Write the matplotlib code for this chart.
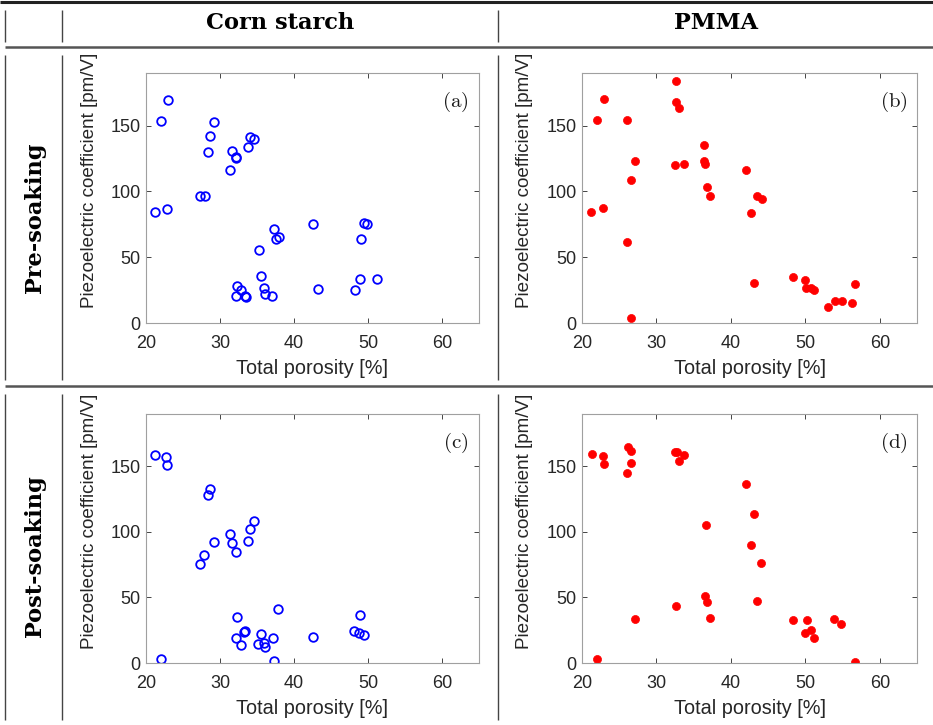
import matplotlib
matplotlib.use("Agg")
import matplotlib.pyplot as plt
from matplotlib.lines import Line2D

plt.rcParams['mathtext.fontset'] = 'cm'

# ---------------- data ----------------
cs_pre_x = [22.93, 21.98, 29.2, 28.66, 34.1, 34.6, 33.75, 28.39, 31.59, 32.13, 32.2, 31.36,
            27.35, 27.98, 21.26, 22.8, 37.32, 37.95, 37.59, 42.59, 49.45, 49.8, 49.0, 35.29,
            35.5, 32.31, 32.85, 32.18, 33.44, 33.57, 35.92, 36.1, 37.09, 43.18, 48.28, 48.9, 51.25]
cs_pre_y = [169.8, 153.8, 152.8, 141.9, 141.1, 139.6, 133.8, 129.7, 130.5, 125.9, 125.4, 116.2,
            96.7, 96.7, 84.0, 86.8, 71.8, 65.5, 63.5, 75.4, 76.1, 74.9, 64.0, 55.3,
            36.0, 28.4, 25.1, 20.8, 20.6, 20.1, 26.6, 21.8, 20.8, 25.6, 24.9, 33.5, 33.2]

pm_pre_x = [32.63, 22.97, 32.63, 33.08, 22.02, 26.02, 36.45, 36.45, 36.58, 32.54, 33.75, 27.15,
            26.56, 42.07, 36.76, 37.26, 43.55, 44.13, 42.74, 21.26, 22.83, 26.11, 43.06, 48.4,
            49.98, 50.11, 50.79, 51.19, 56.72, 53.98, 54.92, 56.27, 52.99, 26.61]
pm_pre_y = [183.8, 170.3, 167.8, 163.5, 154.6, 154.1, 135.0, 123.4, 120.8, 120.1, 120.8, 123.4,
            108.9, 116.0, 103.3, 96.2, 96.4, 93.9, 83.5, 84.5, 87.3, 61.4, 30.5, 35.0,
            32.5, 26.9, 26.9, 25.1, 29.4, 16.8, 16.8, 15.0, 12.2, 3.8]

cs_post_x = [21.26, 22.75, 22.88, 28.69, 28.33, 34.58, 34.09, 31.3, 29.18, 31.57, 33.73, 32.15,
             27.88, 27.34, 37.87, 32.24, 48.98, 33.41, 33.28, 35.48, 32.2, 37.1, 42.55, 48.13,
             48.85, 49.43, 32.78, 35.12, 35.89, 36.07, 21.98, 37.28]
cs_post_y = [158.8, 157.3, 151.3, 132.9, 128.1, 108.0, 102.5, 98.7, 92.0, 91.5, 93.0, 84.9,
             82.2, 75.4, 41.0, 35.2, 36.7, 24.1, 23.6, 21.9, 19.3, 19.3, 19.6, 24.1,
             23.1, 21.4, 13.6, 14.8, 15.1, 12.3, 3.3, 1.5]

pm_post_x = [26.14, 26.64, 21.35, 22.83, 22.96, 26.59, 26.01, 32.51, 32.74, 33.72, 33.09, 42.06,
             43.09, 36.59, 42.74, 44.08, 36.46, 36.82, 43.54, 32.69, 37.26, 27.13, 48.39, 50.18,
             53.9, 54.84, 49.91, 50.76, 51.17, 22.06, 56.68]
pm_post_y = [164.9, 162.1, 159.1, 157.6, 151.5, 152.3, 145.0, 161.1, 161.1, 158.8, 154.5, 136.4,
             113.4, 105.6, 89.9, 76.5, 50.8, 46.7, 47.2, 43.7, 34.6, 33.6, 33.1, 33.1,
             33.3, 29.5, 23.0, 25.0, 18.7, 3.0, 0.8]

col_titles = ["Corn starch", "PMMA"]
row_titles = ["Pre-soaking", "Post-soaking"]
panel_tags = ["(a)", "(b)", "(c)", "(d)"]
x_ticks = [20, 30, 40, 50, 60]
y_ticks = [0, 50, 100, 150]
x_label = "Total porosity [%]"
y_label = "Piezoelectric coefficient [pm/V]"

# ---------------- layout ----------------
W, H = 933, 725
fig = plt.figure(figsize=(W / 100, H / 100), dpi=100)


def rect(left, top, w, h):
    return [left / W, 1 - (top + h) / H, w / W, h / H]


def hline(y, x0, x1, lw, color):
    fig.add_artist(Line2D([x0 / W, x1 / W], [1 - y / H, 1 - y / H], transform=fig.transFigure,
                          lw=lw, color=color, solid_capstyle='butt'))


def vline(x, y0, y1, lw, color):
    fig.add_artist(Line2D([x / W, x / W], [1 - y0 / H, 1 - y1 / H], transform=fig.transFigure,
                          lw=lw, color=color, solid_capstyle='butt'))


# table lines
hline(1.5, 0, W, 2.2, '#222222')
hline(46.5, 5, W, 1.8, '#555555')
hline(385.5, 5, W, 1.8, '#555555')
for x in (5, 62, 498):
    vline(x, 10, 42, 1.0, '#444444')
    vline(x, 55, 380, 1.0, '#444444')
    vline(x, 394, 720, 1.0, '#444444')

# headers
serif_bold = dict(family='DejaVu Serif', weight='bold', fontsize=16.2)
fig.text(280 / W, 1 - 23 / H, col_titles[0], ha='center', va='center', **serif_bold)
fig.text(716 / W, 1 - 23 / H, col_titles[1], ha='center', va='center', **serif_bold)
fig.text(35 / W, 1 - 218 / H, row_titles[0], ha='center', va='center', rotation=90, **serif_bold)
fig.text(35 / W, 1 - 556 / H, row_titles[1], ha='center', va='center', rotation=90, **serif_bold)

panels = [
    (rect(146, 73, 333, 250), cs_pre_x, cs_pre_y, 'open'),
    (rect(582, 73, 335, 250), pm_pre_x, pm_pre_y, 'filled'),
    (rect(146, 414, 333, 249), cs_post_x, cs_post_y, 'open'),
    (rect(582, 414, 335, 249), pm_post_x, pm_post_y, 'filled'),
]

txt_col = '#262626'
for i, (r, xs, ys, style) in enumerate(panels):
    ax = fig.add_axes(r)
    if style == 'open':
        ax.plot(xs, ys, 'o', ms=6.2, mfc='none', mec='#0000ff', mew=1.3, ls='none')
    else:
        ax.plot(xs, ys, 'o', ms=5.8, mfc='#ff0000', mec='#ff0000', mew=0.5, ls='none')
    ax.set_xlim(20, 65)
    ax.set_ylim(0, 190)
    ax.set_xticks(x_ticks)
    ax.set_yticks(y_ticks)
    ax.tick_params(direction='in', top=True, right=True, length=3.5, width=0.6,
                   colors='#262626', labelsize=13, labelcolor=txt_col)
    ax.tick_params(axis='x', pad=8.5)
    ax.tick_params(axis='y', pad=4)
    for s in ax.spines.values():
        s.set_color('#a0a0a0')
        s.set_linewidth(0.8)
    for lab in ax.get_xticklabels() + ax.get_yticklabels():
        lab.set_family('Liberation Sans')
    ax.set_xlabel(x_label, family='Liberation Sans', fontsize=14.3, color=txt_col, labelpad=5.5)
    ax.set_ylabel(y_label, family='Liberation Sans', fontsize=13.6, color=txt_col)
    ax.yaxis.set_label_coords(-0.145, 0.57)
    ax.text(0.93, 0.885, r'$\mathrm{' + panel_tags[i] + '}$', transform=ax.transAxes,
            ha='center', va='center', fontsize=15, color='#1a1a1a')

fig.savefig('out.png', dpi=100)
